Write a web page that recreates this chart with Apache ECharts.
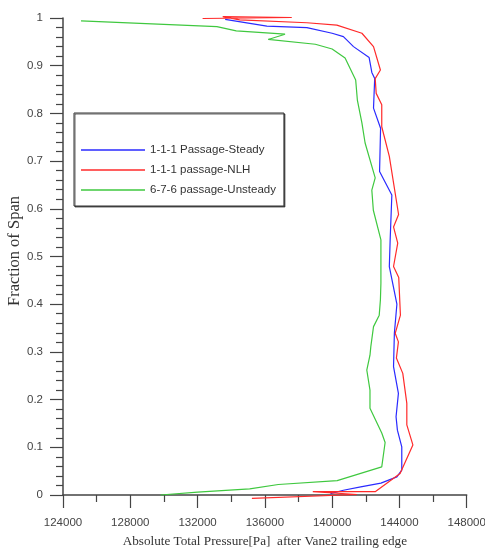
<!DOCTYPE html>
<html>
<head>
<meta charset="utf-8">
<script src="https://cdn.jsdelivr.net/npm/echarts@6/dist/echarts.min.js"></script>
<style>html,body{margin:0;padding:0;background:#fff}#c{width:485px;height:551px}</style>
</head>
<body>
<div id="c"></div>
<script>
// Data
var seriesNames = ['1-1-1 Passage-Steady', '1-1-1 passage-NLH', '6-7-6 passage-Unsteady'];
var xTitle = 'Absolute Total Pressure[Pa]  after Vane2 trailing edge';
var yTitle = 'Fraction of Span';
var xTicks = [124000, 128000, 132000, 136000, 140000, 144000, 148000];
var yTicks = [0, 0.1, 0.2, 0.3, 0.4, 0.5, 0.6, 0.7, 0.8, 0.9, 1];

var steadyP = [133640, 136120, 138500, 140000, 140670, 141270, 142200, 142360, 142530, 142460, 142880, 142820, 143550, 143450, 143400, 143850, 143700, 143650, 143940, 143800, 143880, 144140, 144140, 143850, 142900, 141700, 140670, 139900];
var steadyS = [0.997, 0.983, 0.980, 0.968, 0.961, 0.940, 0.917, 0.886, 0.873, 0.811, 0.769, 0.678, 0.629, 0.535, 0.479, 0.400, 0.339, 0.269, 0.213, 0.164, 0.136, 0.101, 0.052, 0.038, 0.025, 0.017, 0.010, 0.003];

var nlhP = [132300, 137600, 133500, 134500, 138500, 140280, 141770, 142460, 142870, 142560, 142620, 142950, 142950, 143400, 143950, 143650, 143900, 143650, 143960, 144060, 143750, 143940, 143820, 144200, 144440, 144440, 144800, 144040, 142560, 138850, 141470, 135230];
var nlhS = [0.999, 1.001, 1.003, 0.996, 0.990, 0.985, 0.968, 0.940, 0.891, 0.873, 0.842, 0.818, 0.772, 0.710, 0.588, 0.562, 0.528, 0.479, 0.456, 0.377, 0.339, 0.321, 0.287, 0.255, 0.192, 0.147, 0.105, 0.045, 0.007, 0.007, 0.001, -0.007];

var unsteadyP = [125070, 133150, 134300, 137200, 136200, 139000, 140000, 140770, 141400, 141500, 141770, 141960, 142560, 142360, 142450, 142900, 142900, 142870, 142800, 142460, 142300, 142250, 142060, 142250, 142250, 142950, 143150, 142950, 140300, 136800, 135100, 132000, 129800];
var unsteadyS = [0.994, 0.982, 0.973, 0.966, 0.955, 0.945, 0.935, 0.916, 0.870, 0.828, 0.780, 0.738, 0.665, 0.639, 0.597, 0.535, 0.444, 0.409, 0.377, 0.353, 0.311, 0.293, 0.262, 0.220, 0.182, 0.130, 0.110, 0.059, 0.030, 0.022, 0.013, 0.006, 0.000];

function pairs(p, s) { return p.map(function (v, i) { return [v, s[i]]; }); }

var chart = echarts.init(document.getElementById('c'));
var axisCol = '#444';
chart.setOption({
  animation: false,
  grid: { left: 63, right: 18.3, top: 18, bottom: 56, containLabel: false, outerBoundsMode: 'none' },
  graphic: [{
    type: 'text', x: 15, y: 251, rotation: Math.PI / 2,
    style: { text: yTitle, fontFamily: 'Liberation Serif', fontSize: 16.5, fill: '#333', align: 'center', verticalAlign: 'middle' }
  }],
  legend: {
    orient: 'vertical',
    left: 74, top: 113,
    padding: [31, 8, 10, 7],
    icon: 'rect',
    itemWidth: 64, itemHeight: 1.6, itemGap: 8,
    borderColor: '#333', borderWidth: 1,
    shadowColor: 'rgba(0,0,0,0.6)', shadowOffsetX: 1, shadowOffsetY: 1, shadowBlur: 0,
    backgroundColor: '#fff',
    textStyle: { fontFamily: 'Liberation Sans', fontSize: 11.5, color: '#333' },
    data: seriesNames
  },
  xAxis: {
    type: 'value', min: xTicks[0], max: xTicks[xTicks.length - 1], interval: 4000,
    name: xTitle,
    nameLocation: 'middle', nameGap: 40,
    nameTextStyle: { fontFamily: 'Liberation Serif', fontSize: 13.2, color: '#333' },
    axisLine: { lineStyle: { color: axisCol, width: 1.5 } },
    axisTick: { inside: false, length: 13, lineStyle: { color: axisCol, width: 1.2 } },
    minorTick: { show: true, splitNumber: 2, length: 7, lineStyle: { color: axisCol, width: 1.2 } },
    axisLabel: { margin: 22, fontFamily: 'Liberation Sans', fontSize: 11.5, color: '#444', formatter: function (v) { return String(v); } },
    splitLine: { show: false }
  },
  yAxis: {
    type: 'value', min: 0, max: 1, interval: 0.1,
    axisLine: { lineStyle: { color: axisCol, width: 1.5 } },
    axisTick: { inside: false, length: 13, lineStyle: { color: axisCol, width: 1.2 } },
    minorTick: { show: true, splitNumber: 5, length: 7, lineStyle: { color: axisCol, width: 1.2 } },
    axisLabel: { margin: 20, fontFamily: 'Liberation Sans', fontSize: 11.5, color: '#444' },
    splitLine: { show: false }
  },
  series: [
    { name: seriesNames[2], type: 'line', symbol: 'none', clip: false, data: pairs(unsteadyP, unsteadyS), lineStyle: { color: '#3fc83f', width: 1.2 }, itemStyle: { color: '#3fc83f' } },
    { name: seriesNames[0], type: 'line', symbol: 'none', clip: false, data: pairs(steadyP, steadyS), lineStyle: { color: '#2a2aff', width: 1.2 }, itemStyle: { color: '#2a2aff' } },
    { name: seriesNames[1], type: 'line', symbol: 'none', clip: false, data: pairs(nlhP, nlhS), lineStyle: { color: '#ff2a2a', width: 1.2 }, itemStyle: { color: '#ff2a2a' } }
  ]
});
</script>
</body>
</html>
